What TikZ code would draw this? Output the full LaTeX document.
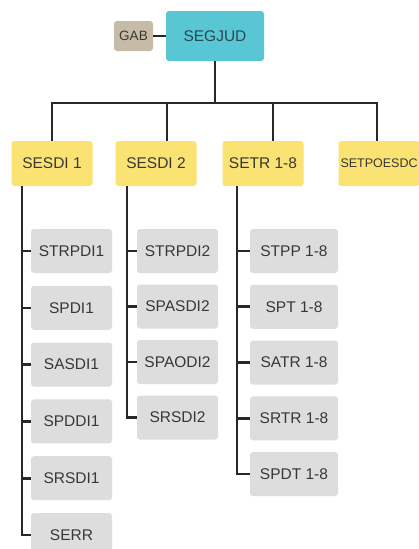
\documentclass[tikz,border=0pt]{standalone}
\usepackage{xcolor}
\usepackage{fontspec}
\setmainfont{Liberation Sans}
\usepackage{tikz}
\usetikzlibrary{positioning,calc}
\definecolor{segteal}{RGB}{89,198,212}
\definecolor{gabtan}{RGB}{198,187,166}
\definecolor{secyellow}{RGB}{250,226,115}
\definecolor{unitgray}{RGB}{221,221,221}
\definecolor{txtgray}{RGB}{55,55,55}
\definecolor{linegray}{RGB}{40,40,40}

\begin{document}
\begin{tikzpicture}[node distance=12pt, line width=2.5pt]
  \tikzstyle{box} = [rectangle, rounded corners=3pt, inner sep=2pt, outer sep=0pt, text=txtgray, font=\fontsize{15.5}{18}\selectfont]
  \tikzstyle{topbox} = [box, fill=segteal, text={rgb,255:red,40;green,72;blue,84}, minimum width=98pt, minimum height=50pt]
  \tikzstyle{gabbox} = [box, fill=gabtan, minimum width=39pt, minimum height=30pt, font=\fontsize{13.5}{16}\selectfont]
  \tikzstyle{secbox} = [box, fill=secyellow, minimum width=81pt, minimum height=45pt]
  \tikzstyle{unitbox} = [box, fill=unitgray, minimum width=81pt, minimum height=44pt]
  \tikzstyle{link} = [draw=linegray, line width=2.6pt]

  \useasboundingbox[fill=white] (0,0) rectangle (418pt,-549pt);

  \node[topbox] (segjud) at (215pt,-36pt) {SEGJUD};
  \node[gabbox] (gab) [left=13pt of segjud] {GAB};

  \node[secbox] (sesdi1) at (52pt,-163.5pt) {SESDI 1};
  \node[secbox] (sesdi2) [right=23pt of sesdi1] {SESDI 2};
  \node[secbox] (setr) [right=26pt of sesdi2] {SETR 1-8};
  \node[secbox, minimum width=0pt, inner xsep=2pt, anchor=west, font=\fontsize{12.5}{15}\selectfont] (setpo) at ([xshift=35pt]setr.east) {SETPOESDC};

  \node[unitbox] (strpdi1) at (71.5pt,-251pt) {STRPDI1};
  \node[unitbox] (spdi1) [below=12.8pt of strpdi1] {SPDI1};
  \node[unitbox] (sasdi1) [below=12.8pt of spdi1] {SASDI1};
  \node[unitbox] (spddi1) [below=12.8pt of sasdi1] {SPDDI1};
  \node[unitbox] (srsdi1) [below=12.8pt of spddi1] {SRSDI1};
  \node[unitbox] (serr) [below=12.8pt of srsdi1] {SERR};

  \node[unitbox] (strpdi2) at (177.5pt,-251pt) {STRPDI2};
  \node[unitbox] (spasdi2) [below=11.5pt of strpdi2] {SPASDI2};
  \node[unitbox] (spaodi2) [below=11.5pt of spasdi2] {SPAODI2};
  \node[unitbox] (srsdi2) [below=11.5pt of spaodi2] {SRSDI2};

  \node[unitbox, minimum width=88pt] (stpp) at (294pt,-251pt) {STPP 1-8};
  \node[unitbox, minimum width=88pt] (spt) [below=11.75pt of stpp] {SPT 1-8};
  \node[unitbox, minimum width=88pt] (satr) [below=11.75pt of spt] {SATR 1-8};
  \node[unitbox, minimum width=88pt] (srtr) [below=11.75pt of satr] {SRTR 1-8};
  \node[unitbox, minimum width=88pt] (spdt) [below=11.75pt of srtr] {SPDT 1-8};

  \coordinate (bar) at ([yshift=-42pt]segjud.south);
  \coordinate (c1) at ([xshift=10.5pt]sesdi1.south west);
  \coordinate (c2) at ([xshift=11.5pt]sesdi2.south west);
  \coordinate (c3) at ([xshift=14.5pt]setr.south west);

  \draw[link] (gab) -- (segjud);
  \draw[link] (segjud.south) -- (bar);
  \draw[link] (bar) -| (sesdi1.north);
  \draw[link] (bar) -| ([xshift=11pt]sesdi2.north);
  \draw[link] (bar) -| ([xshift=10pt]setr.north);
  \draw[link] (bar) -| ([xshift=38.5pt]setpo.north west);

  \draw[link] (c1) |- (serr.west);
  \foreach \n in {strpdi1,spdi1,sasdi1,spddi1,srsdi1}
    \draw[link] (\n.west) -- (\n.west -| c1);
  \draw[link] (c2) |- (srsdi2.west);
  \foreach \n in {strpdi2,spasdi2,spaodi2}
    \draw[link] (\n.west) -- (\n.west -| c2);
  \draw[link] (c3) |- (spdt.west);
  \foreach \n in {stpp,spt,satr,srtr}
    \draw[link] (\n.west) -- (\n.west -| c3);
\end{tikzpicture}
\end{document}
